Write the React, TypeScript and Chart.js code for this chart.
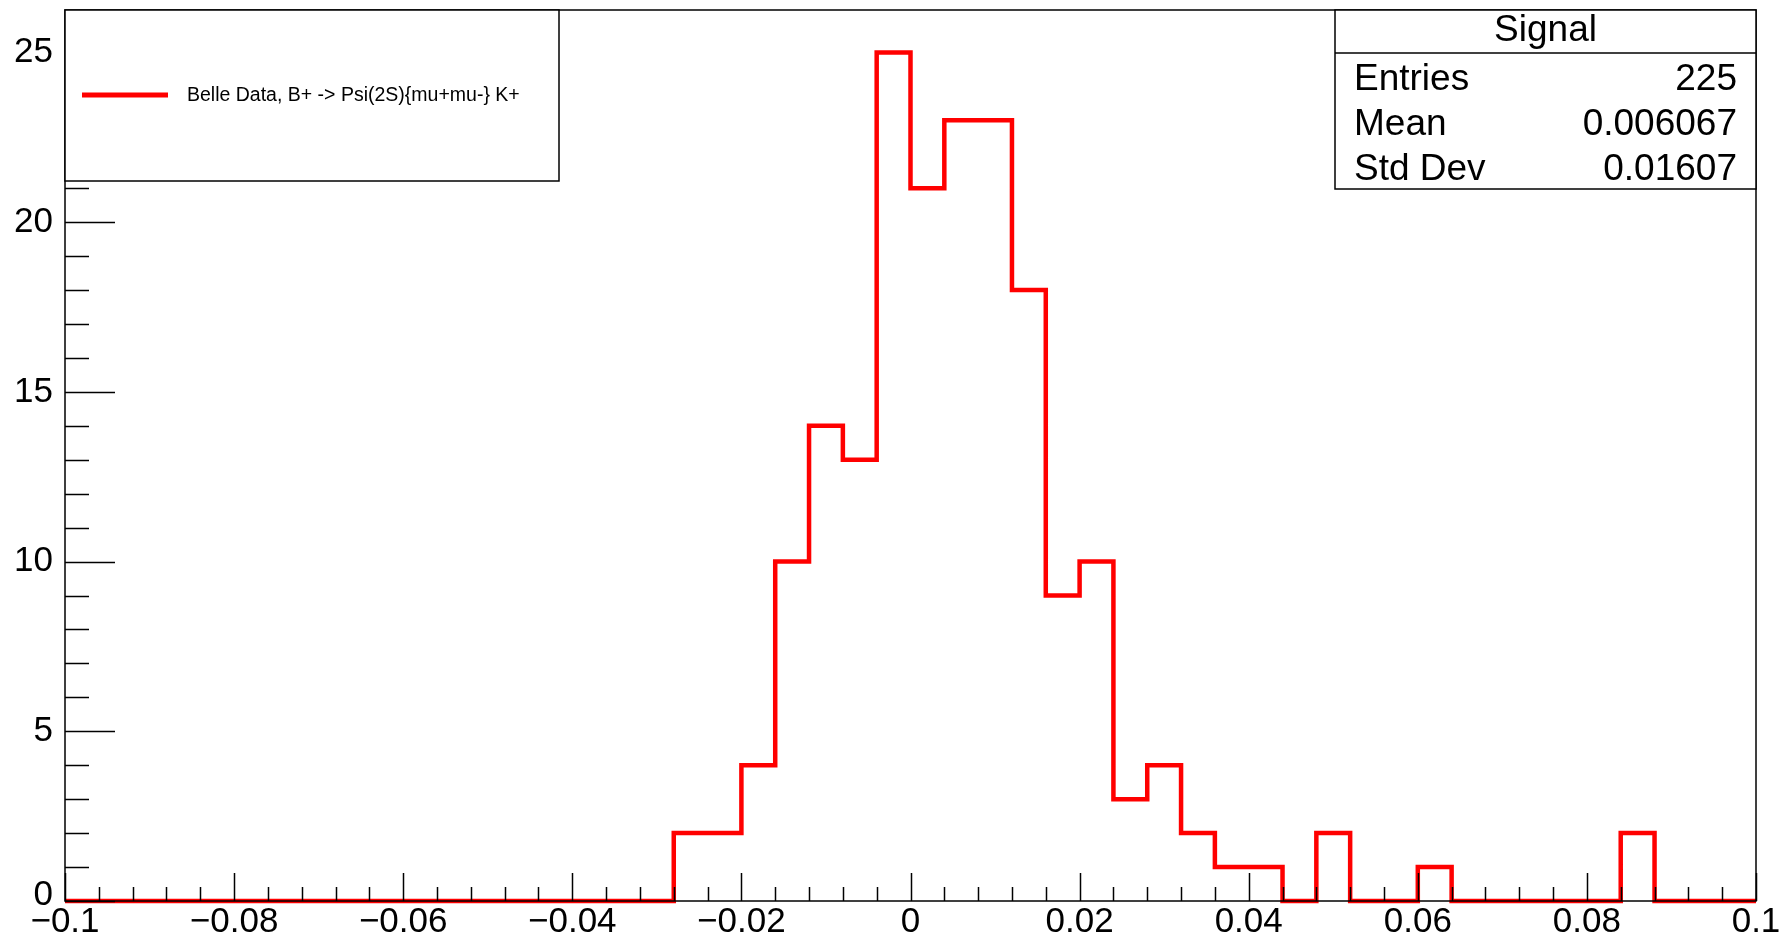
import React, { useEffect, useRef } from "react";
import { Chart, registerables } from "chart.js";
Chart.register(...registerables);

const binLow = -0.1;
const binWidth = 0.004;
// 50 bins from -0.1 to 0.1
const counts = [
  0, 0, 0, 0, 0, 0, 0, 0, 0, 0, 0, 0, 0, 0, 0, 0, 0, 0, 0,
  2, 2, 4, 10, 14, 13, 25, 21, 23, 23, 18, 9, 10, 3, 4, 2, 1, 1, 0, 2,
  0, 0, 1, 0, 0, 0, 0, 0, 2, 0, 0,
];
const xTickLabels = ["−0.1", "−0.08", "−0.06", "−0.04", "−0.02", "0", "0.02", "0.04", "0.06", "0.08", "0.1"];
const xTickValues = [-0.1, -0.08, -0.06, -0.04, -0.02, 0, 0.02, 0.04, 0.06, 0.08, 0.1];
const yTickValues = [0, 5, 10, 15, 20, 25];
const legendLabel = "Belle Data, B+ -> Psi(2S){mu+mu-} K+";
const statsTitle = "Signal";
const statsRows: [string, string][] = [
  ["Entries", "225"],
  ["Mean", "0.006067"],
  ["Std Dev", "0.01607"],
];

const FONT = "Liberation Sans, Arial, sans-serif";

const rootPlugin = {
  id: "rootDecor",
  afterDraw(chart: any) {
    const ctx = chart.ctx as CanvasRenderingContext2D;
    const { left, right, top, bottom } = chart.chartArea;
    const xs = chart.scales.x, ys = chart.scales.y;
    ctx.save();
    ctx.strokeStyle = "#000";
    ctx.fillStyle = "#000";
    ctx.lineWidth = 1.5;
    ctx.strokeRect(left, top, right - left, bottom - top);
    ctx.beginPath();
    for (let i = 0; i <= 50; i++) {
      const v = -0.1 + i * 0.004;
      const px = Math.round(xs.getPixelForValue(v)) + 0.5;
      const len = i % 5 === 0 ? 28 : 14;
      ctx.moveTo(px, bottom);
      ctx.lineTo(px, bottom - len);
    }
    for (let v = 0; v <= 26; v++) {
      const py = Math.round(ys.getPixelForValue(v)) + 0.5;
      const len = v % 5 === 0 ? 50 : 24;
      ctx.moveTo(left, py);
      ctx.lineTo(left + len, py);
    }
    ctx.stroke();
    ctx.font = `35px ${FONT}`;
    ctx.textAlign = "center";
    ctx.textBaseline = "top";
    xTickValues.forEach((v, i) => {
      ctx.fillText(xTickLabels[i], xs.getPixelForValue(v), bottom + 4);
    });
    ctx.textAlign = "right";
    ctx.textBaseline = "middle";
    yTickValues.forEach((v) => {
      const py = ys.getPixelForValue(v);
      ctx.fillText(String(v), left - 12, v === 0 ? py - 6 : py);
    });
    // legend box
    ctx.fillStyle = "#fff";
    ctx.fillRect(left, top, 494, 171);
    ctx.strokeRect(left, top, 494, 171);
    ctx.strokeStyle = "#ff0000";
    ctx.lineWidth = 5;
    ctx.beginPath();
    ctx.moveTo(82, 95);
    ctx.lineTo(168, 95);
    ctx.stroke();
    ctx.fillStyle = "#000";
    ctx.font = `19.5px ${FONT}`;
    ctx.textAlign = "left";
    ctx.fillText(legendLabel, 187, 96);
    // stats box
    const sx = 1335, sw = right - sx, sy = top, sh = 179;
    ctx.fillStyle = "#fff";
    ctx.fillRect(sx, sy, sw, sh);
    ctx.strokeStyle = "#000";
    ctx.lineWidth = 1.5;
    ctx.strokeRect(sx, sy, sw, sh);
    ctx.beginPath();
    ctx.moveTo(sx, 53);
    ctx.lineTo(sx + sw, 53);
    ctx.stroke();
    ctx.fillStyle = "#000";
    ctx.font = `37px ${FONT}`;
    ctx.textAlign = "center";
    ctx.fillText(statsTitle, sx + sw / 2, 31);
    statsRows.forEach(([k, v], i) => {
      const y = 80 + i * 45;
      ctx.textAlign = "left";
      ctx.fillText(k, 1354, y);
      ctx.textAlign = "right";
      ctx.fillText(v, 1737, y);
    });
    ctx.restore();
  },
};

export default function App() {
  const ref = useRef<HTMLCanvasElement>(null);
  useEffect(() => {
    const pts = counts.map((c, i) => ({ x: binLow + i * binWidth, y: c }));
    pts.push({ x: binLow + counts.length * binWidth, y: counts[counts.length - 1] });
    const chart = new Chart(ref.current!, {
      type: "line",
      data: {
        datasets: [
          {
            data: pts,
            stepped: "after",
            borderColor: "#ff0000",
            borderWidth: 4.5,
            pointRadius: 0,
            fill: false,
            clip: false as any,
          },
        ],
      },
      options: {
        responsive: false,
        animation: false,
        layout: { padding: { left: 65, top: 10, right: 28, bottom: 40 } },
        plugins: { legend: { display: false }, tooltip: { enabled: false } },
        scales: {
          x: { type: "linear", min: -0.1, max: 0.1, display: false },
          y: { type: "linear", min: 0, max: 26.25, display: false },
        },
      },
      plugins: [rootPlugin],
    });
    return () => chart.destroy();
  }, []);
  return (
    <div style={{ position: "absolute", left: 0, top: 0, background: "#fff" }}>
      <canvas ref={ref} width={1784} height={941} style={{ width: 1784, height: 941, display: "block" }} />
    </div>
  );
}
